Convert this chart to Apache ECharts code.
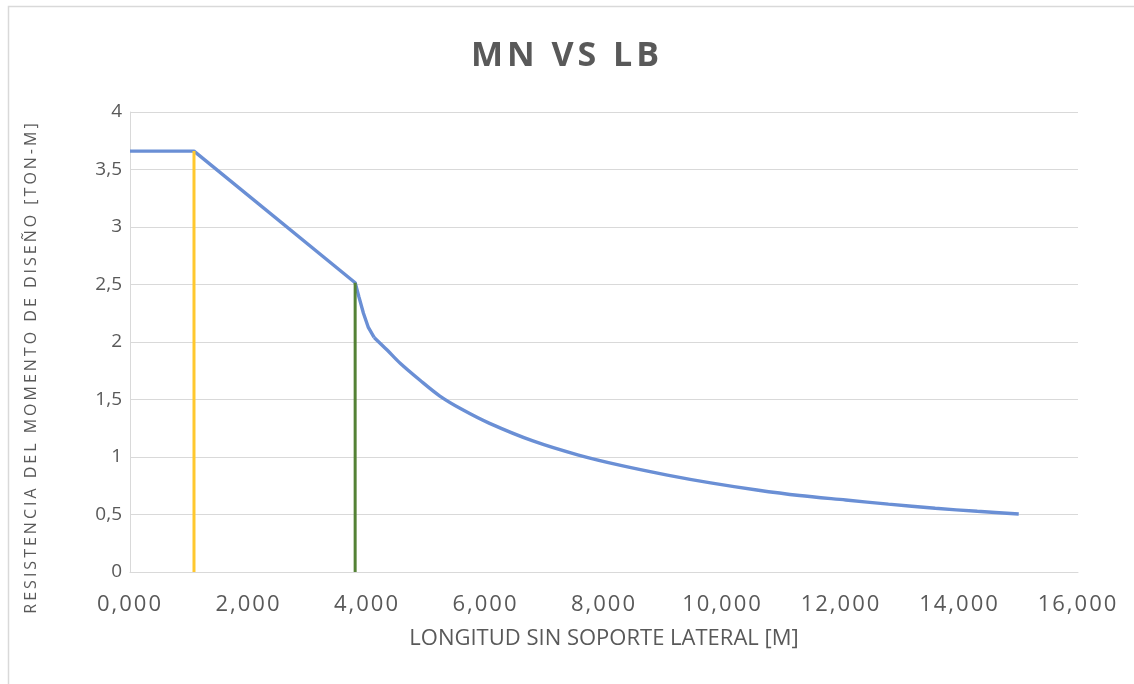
<!DOCTYPE html>
<html>
<head>
<meta charset="utf-8">
<script src="https://cdn.jsdelivr.net/npm/echarts@6/dist/echarts.min.js"></script>
<style>
html,body{margin:0;padding:0;background:#fff;}
#chart{width:1134px;height:684px;}
</style>
</head>
<body>
<div id="chart"></div>
<script>
// ---- data ----
const chartTitle = 'MN VS LB';
const xAxisName = 'LONGITUD SIN SOPORTE LATERAL [M]';
const yAxisName = 'RESISTENCIA DEL MOMENTO DE DISEÑO [TON-M]';
// plateau + inelastic portion (straight segments)
const lbA = [0, 1.08, 3.80, 3.865, 3.94, 4.02, 4.12];
const mnA = [3.66, 3.66, 2.515, 2.39, 2.25, 2.13, 2.04];
// elastic portion (smooth curve)
const lbB = [4.12, 4.34, 4.56, 4.9, 5.23, 5.6, 6.06, 6.8, 7.57, 8.3, 9.07, 9.8, 10.58, 11.3, 12.08, 12.8, 13.59, 14.3, 15.0];
const mnB = [2.04, 1.93, 1.815, 1.665, 1.53, 1.415, 1.295, 1.14, 1.017, 0.925, 0.843, 0.775, 0.713, 0.665, 0.626, 0.59, 0.554, 0.528, 0.504];
const lpX = [1.08, 1.08];
const lpY = [0, 3.66];
const lrX = [3.80, 3.80];
const lrY = [0, 2.515];
const xTicks = [0, 2, 4, 6, 8, 10, 12, 14, 16];
const yTicks = [0, 0.5, 1, 1.5, 2, 2.5, 3, 3.5, 4];

// letter spacing helper (keeps text as real text)
(function(){
  const proto = CanvasRenderingContext2D.prototype;
  const orig = proto.fillText;
  function spacing(t){
    if (t === chartTitle) return '4px';
    if (t === yAxisName) return '3px';
    if (/^\d+,\d{3}$/.test(t)) return '2px';
    return '0px';
  }
  proto.fillText = function(t){
    if ('letterSpacing' in this) {
      const ls = spacing(String(t));
      if (this.letterSpacing !== ls) {
        const f = this.font;
        this.letterSpacing = ls;
        this.font = '10px serif';
        this.font = f;
      }
    }
    return orig.apply(this, arguments);
  };
})();

const zip = (a, b) => a.map((v, i) => [v, b[i]]);
const chart = echarts.init(document.getElementById('chart'), null, {renderer: 'canvas'});
const gridColor = '#D9D9D9';
const textColor = '#595959';
const blue = '#6A8FD5';
chart.setOption({
  animation: false,
  backgroundColor: '#fff',
  title: {
    text: chartTitle, left: 'center', top: 34,
    textStyle: {fontFamily: 'Open Sans', fontWeight: 'bold', fontSize: 34, color: textColor}
  },
  grid: {left: 130, right: 56, top: 112, bottom: 112, containLabel: false},
  xAxis: {
    type: 'value', min: xTicks[0], max: xTicks[xTicks.length - 1], interval: 2,
    name: xAxisName, nameLocation: 'middle', nameGap: 56,
    nameTextStyle: {fontFamily: 'Open Sans', fontSize: 22, color: textColor},
    axisLine: {show: true, lineStyle: {color: gridColor, width: 1}},
    axisTick: {show: false},
    splitLine: {show: false},
    axisLabel: {
      fontFamily: 'Open Sans', fontSize: 22, color: textColor, margin: 22,
      formatter: v => v.toFixed(3).replace('.', ',')
    }
  },
  yAxis: {
    type: 'value', min: yTicks[0], max: yTicks[yTicks.length - 1], interval: 0.5,
    axisLine: {show: true, lineStyle: {color: gridColor, width: 1}},
    axisTick: {show: false},
    splitLine: {show: true, lineStyle: {color: gridColor, width: 1}},
    axisLabel: {
      fontFamily: 'Open Sans', fontSize: 19, color: textColor, margin: 8,
      formatter: v => String(v).replace('.', ',')
    }
  },
  graphic: [
    {
      type: 'rect', silent: true, z: -10,
      shape: {x: 8.5, y: 6.5, width: 1200, height: 760},
      style: {fill: 'none', stroke: gridColor, lineWidth: 1.5}
    },
    {
      type: 'text', silent: true, x: 31, y: 367, rotation: Math.PI / 2,
      style: {
        text: yAxisName, fill: textColor, font: '16px "Open Sans"',
        textAlign: 'center', textVerticalAlign: 'middle'
      }
    }
  ],
  series: [
    {
      type: 'line', name: 'Mn', data: zip(lbA, mnA), showSymbol: false, symbol: 'none',
      lineStyle: {color: blue, width: 3.4}, z: 2
    },
    {
      type: 'line', name: 'Mn elastic', data: zip(lbB, mnB), showSymbol: false, symbol: 'none',
      smooth: 0.3,
      lineStyle: {color: blue, width: 3.4}, z: 2
    },
    {
      type: 'line', name: 'Lp', data: zip(lpX, lpY), showSymbol: false, symbol: 'none',
      lineStyle: {color: '#FFC82E', width: 3}, z: 3
    },
    {
      type: 'line', name: 'Lr', data: zip(lrX, lrY), showSymbol: false, symbol: 'none',
      lineStyle: {color: '#548235', width: 3}, z: 3
    }
  ]
});
</script>
</body>
</html>
